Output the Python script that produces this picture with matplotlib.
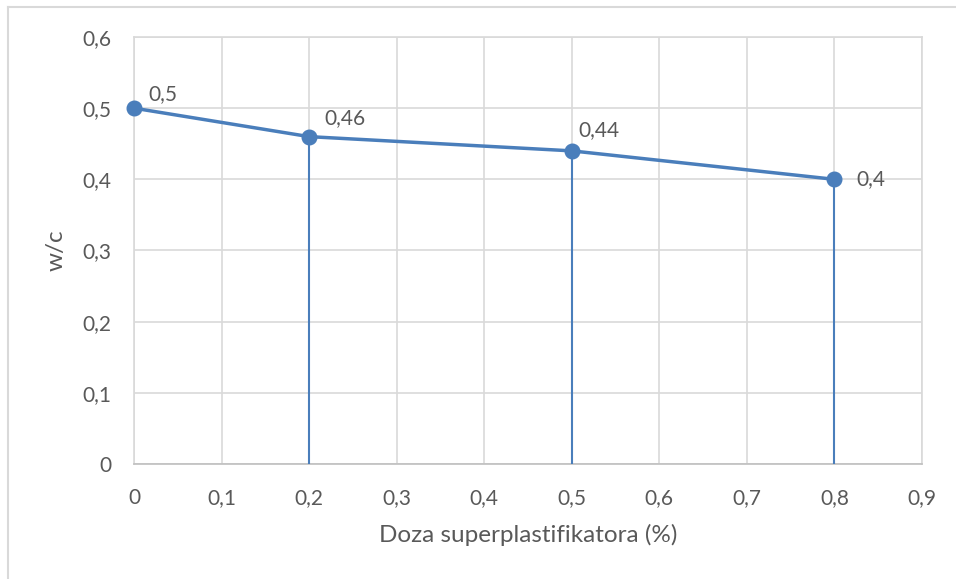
import matplotlib
matplotlib.use("Agg")
import matplotlib.pyplot as plt
from matplotlib.lines import Line2D

x_vals = [0, 0.2, 0.5, 0.8]
y_vals = [0.5, 0.46, 0.44, 0.4]
point_labels = ["0,5", "0,46", "0,44", "0,4"]
x_ticks = [0, 0.1, 0.2, 0.3, 0.4, 0.5, 0.6, 0.7, 0.8, 0.9]
x_ticklabels = ["0", "0,1", "0,2", "0,3", "0,4", "0,5", "0,6", "0,7", "0,8", "0,9"]
y_ticks = [0, 0.1, 0.2, 0.3, 0.4, 0.5, 0.6]
y_ticklabels = ["0", "0,1", "0,2", "0,3", "0,4", "0,5", "0,6"]
x_title = "Doza superplastifikatora (%)"
y_title = "w/c"

plt.rcParams['font.family'] = ['Lato', 'DejaVu Sans']
txt = '#595959'
blue = '#4A7EBB'
grid = '#D9D9D9'

fig = plt.figure(figsize=(9.56, 5.79), dpi=100)
ax = fig.add_axes([134/956, 1-464/579, (922-134)/956, (464-37)/579])

ax.set_xlim(0, 0.9)
ax.set_ylim(0, 0.6)
ax.set_xticks(x_ticks)
ax.set_xticklabels(x_ticklabels)
ax.set_yticks(y_ticks)
ax.set_yticklabels(y_ticklabels)
ax.grid(True, color=grid, linewidth=1.2)
ax.set_axisbelow(True)
for s in ['top', 'right', 'left']:
    ax.spines[s].set_color(grid)
    ax.spines[s].set_linewidth(1.2)
ax.spines['bottom'].set_color('#BFBFBF')
ax.spines['bottom'].set_linewidth(1.2)
ax.tick_params(length=0, labelsize=15, colors=txt)
ax.tick_params(axis='x', pad=17)
ax.tick_params(axis='y', pad=16)

# drop lines
for xv, yv in zip(x_vals, y_vals):
    if xv > 0:
        ax.plot([xv, xv], [0, yv], color=blue, linewidth=1.5, zorder=3)

ax.plot(x_vals, y_vals, color=blue, linewidth=2.5, marker='o', markersize=10.5,
        zorder=4, clip_on=False)

offsets = [(10, 3), (11, 6), (5, 8), (16, 0)]
for xv, yv, lab, off in zip(x_vals, y_vals, point_labels, offsets):
    va = 'bottom' if off[1] > 0 else 'center'
    ax.annotate(lab, (xv, yv), xytext=off, textcoords='offset points',
                ha='left', va=va, fontsize=15, color=txt)

ax.set_xlabel(x_title, fontsize=17.5, color=txt, labelpad=12)
ax.set_ylabel(y_title, fontsize=17.5, color=txt, labelpad=12)

# outer chart border
fig.add_artist(Line2D([8/956, 1], [1-7/579, 1-7/579], color=grid, linewidth=1.5, transform=fig.transFigure))
fig.add_artist(Line2D([8/956, 8/956], [0, 1-7/579], color=grid, linewidth=1.5, transform=fig.transFigure))

fig.savefig("out.png", dpi=100)
